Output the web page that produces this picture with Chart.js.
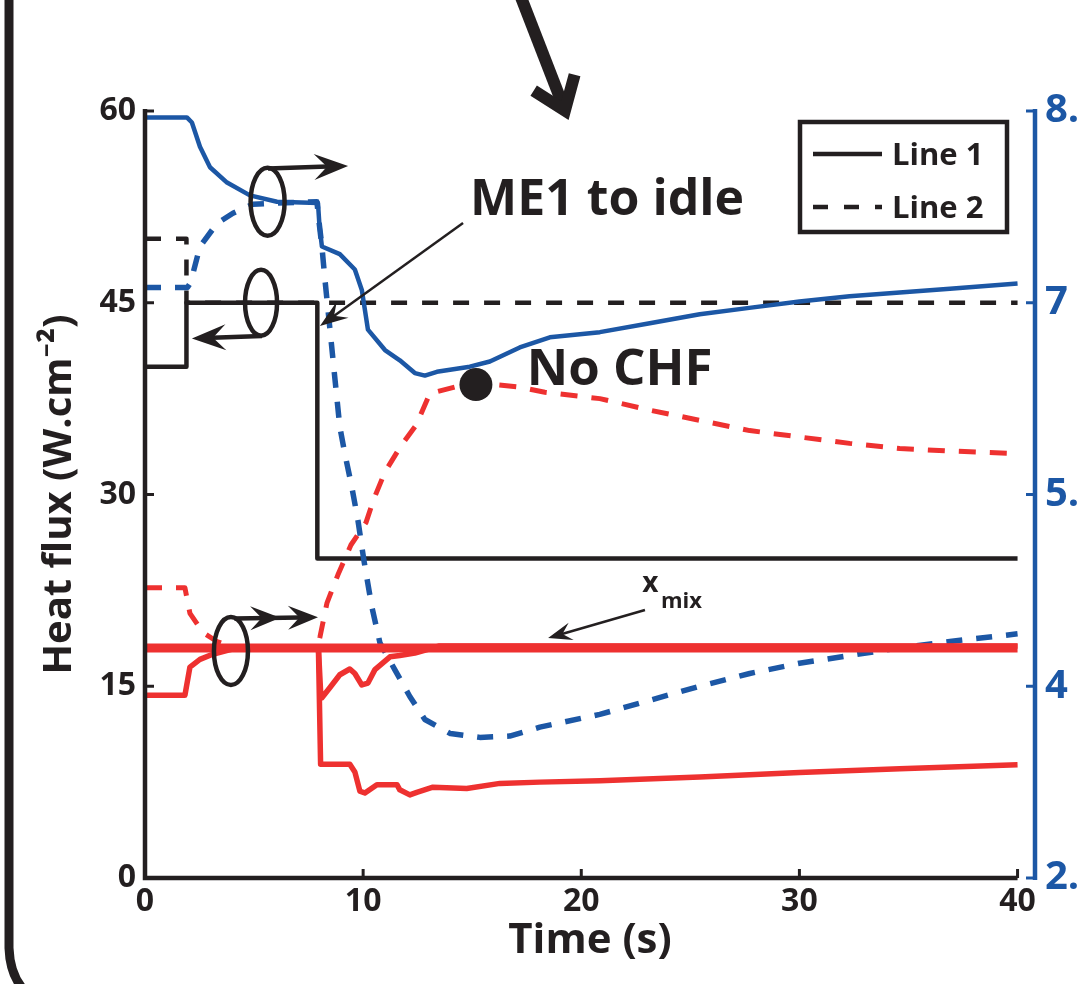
<!DOCTYPE html>
<html>
<head>
<meta charset="utf-8">
<script src="https://cdn.jsdelivr.net/npm/chart.js@4.4.1/dist/chart.umd.min.js"></script>
<style>
    html, body { margin: 0; padding: 0; background: #fff; overflow: hidden; }
    #wrap { width: 1130px; height: 984px; position: relative; }
</style>
</head>
<body>
<div id="wrap"><canvas id="chart"></canvas></div>
<script>
// tick values
const timeTicks = [0, 10, 20, 30, 40]
const fluxTicks = [0, 15, 30, 45, 60]
const rightTicks = [2.5, 4, 5.5, 7, 8.5]
const legendLabels = ["Line 1", "Line 2"]

// black, heat flux (left axis)
const blackSolidT = [0, 1.9, 1.9, 7.9, 7.9, 40]
const blackSolidV = [40, 40, 45, 45, 25, 25]
const blackDashT = [0, 1.9, 1.9, 40]
const blackDashV = [50, 50, 45, 45]

// blue (right axis)
const blueSolidT = [0, 1.92, 2.15, 2.52, 2.98, 3.76, 4.81, 6.05, 7.93, 8.0, 8.11, 8.93, 9.62, 9.94, 10.22, 11.0, 11.68, 12.37, 12.83, 13.38, 14.89, 15.81, 17.18, 18.56, 20.85, 23.14, 25.43, 27.7, 30, 32.3, 34.6, 36.9, 40]
const blueSolidV = [8.45, 8.45, 8.41, 8.22, 8.06, 7.94, 7.84, 7.79, 7.78, 7.6, 7.44, 7.38, 7.26, 7.1, 6.79, 6.63, 6.55, 6.45, 6.43, 6.46, 6.5, 6.54, 6.65, 6.73, 6.77, 6.84, 6.91, 6.96, 7.01, 7.05, 7.08, 7.11, 7.15]
const blueDashT = [0, 1.95, 2.06, 2.2, 2.52, 3.3, 4.03, 4.95, 6.05, 7.88, 8.0, 8.11, 8.25, 8.48, 8.71, 8.93, 9.16, 9.48, 9.76, 10.03, 10.4, 10.77, 11.45, 12.14, 12.83, 14.0, 15.35, 16.72, 18.1, 20.85, 23.14, 25.43, 27.72, 30, 32.3, 34.6, 36.9, 40]
const blueDashV = [7.12, 7.12, 7.15, 7.23, 7.44, 7.62, 7.7, 7.77, 7.78, 7.79, 7.6, 7.44, 7.18, 6.79, 6.4, 6.03, 5.82, 5.56, 5.3, 4.99, 4.62, 4.34, 4.13, 3.92, 3.74, 3.63, 3.6, 3.61, 3.68, 3.78, 3.89, 4.0, 4.1, 4.18, 4.24, 4.3, 4.35, 4.41]

// red (left axis)
const redDashT = [0, 1.83, 2.06, 2.66, 3.3, 4.0, 7.9, 8.02, 8.34, 8.84, 9.44, 10.13, 10.49, 11.0, 11.73, 12.42, 13.06, 14.43, 16.04, 17.18, 18.33, 20.85, 23.14, 25.43, 27.72, 30, 32.3, 34.6, 36.9, 40]
const redDashV = [22.7, 22.7, 20.7, 19.2, 18.5, 18.1, 18.0, 18.85, 21.5, 23.7, 26.05, 27.8, 29.65, 31.76, 33.8, 35.4, 37.9, 38.5, 38.6, 38.4, 38.0, 37.5, 36.6, 35.8, 35.0, 34.5, 34.0, 33.6, 33.4, 33.2]
const redThickT = [0, 40]
const redThickV = [18, 18]
const redUpperT = [0, 1.83, 2.06, 2.52, 3.1, 4.0, 5.0, 7.95, 8.05, 8.11, 8.48, 8.93, 9.39, 9.62, 9.94, 10.22, 10.54, 11.23, 11.68, 12.37, 13.5, 40]
const redUpperV = [14.3, 14.3, 16.5, 17.1, 17.5, 17.9, 18.0, 18.0, 14.6, 14.1, 14.9, 15.9, 16.35, 16.0, 15.1, 15.25, 16.3, 17.3, 17.4, 17.6, 18.15, 18.15]
const redLowerT = [7.95, 8.05, 9.39, 9.62, 9.85, 10.08, 10.63, 11.55, 11.68, 12.14, 12.46, 13.2, 14.75, 16.27, 18.1, 20.85, 25.43, 30, 34.6, 40]
const redLowerV = [18, 8.9, 8.9, 8.3, 6.8, 6.65, 7.3, 7.3, 6.9, 6.5, 6.7, 7.1, 7.0, 7.4, 7.5, 7.6, 7.9, 8.25, 8.55, 8.85]

// "No CHF" point
const noChfT = [15.17]
const noChfV = [38.6]

const BLACK = "#231f20"
const BLUE = "#1c57a5"
const RED = "#ee3130"
const FONT = "'Open Sans', 'Noto Sans', sans-serif"

const pts = (t, v) => t.map((x, i) => ({ x, y: v[i] }))

function line(label, t, v, color, width, dash, axis, order) {
    return {
        label,
        data: pts(t, v),
        borderColor: color,
        backgroundColor: color,
        borderWidth: width,
        borderDash: dash,
        pointRadius: 0,
        tension: 0,
        yAxisID: axis,
        order,
        borderCapStyle: "butt",
        borderJoinStyle: "round",
    }
}

function arrowHead(ctx, x1, y1, x2, y2, len, half) {
    const a = Math.atan2(y2 - y1, x2 - x1)
    ctx.save()
    ctx.translate(x2, y2)
    ctx.rotate(a)
    ctx.beginPath()
    ctx.moveTo(0, 0)
    ctx.lineTo(-len, -half)
    ctx.lineTo(-len * 0.62, 0)
    ctx.lineTo(-len, half)
    ctx.closePath()
    ctx.fill()
    ctx.restore()
}

function arrow(ctx, x1, y1, x2, y2, width, len, half) {
    const a = Math.atan2(y2 - y1, x2 - x1)
    ctx.lineWidth = width
    ctx.beginPath()
    ctx.moveTo(x1, y1)
    ctx.lineTo(x2 - Math.cos(a) * len * 0.6, y2 - Math.sin(a) * len * 0.6)
    ctx.stroke()
    arrowHead(ctx, x1, y1, x2, y2, len, half)
}

const decorations = {
    id: "decorations",
    afterDraw(chart) {
        const ctx = chart.ctx
        const xs = chart.scales.x
        const ys = chart.scales.y
        const y1 = chart.scales.y1
        const area = chart.chartArea
        const px = (t) => xs.getPixelForValue(t)
        const py = (v) => ys.getPixelForValue(v)

        ctx.save()
        ctx.lineCap = "butt"
        ctx.fillStyle = BLACK
        ctx.strokeStyle = BLACK

        // axes
        ctx.lineWidth = 4.5
        ctx.beginPath()
        ctx.moveTo(px(0), py(60) - 2)
        ctx.lineTo(px(0), py(0))
        ctx.lineTo(px(40), py(0))
        ctx.stroke()
        ctx.lineWidth = 3
        fluxTicks.slice(1).forEach((v) => {
            ctx.beginPath()
            ctx.moveTo(px(0), py(v))
            ctx.lineTo(px(0) + 9, py(v))
            ctx.stroke()
        })
        timeTicks.slice(1).forEach((t) => {
            ctx.beginPath()
            ctx.moveTo(px(t), py(0))
            ctx.lineTo(px(t), py(0) - 9)
            ctx.stroke()
        })
        ctx.strokeStyle = BLUE
        ctx.lineWidth = 4.5
        ctx.beginPath()
        ctx.moveTo(area.right, y1.getPixelForValue(8.5) - 2)
        ctx.lineTo(area.right, y1.getPixelForValue(2.5) + 2)
        ctx.stroke()
        ctx.lineWidth = 3
        rightTicks.forEach((v) => {
            ctx.beginPath()
            ctx.moveTo(area.right, y1.getPixelForValue(v))
            ctx.lineTo(area.right - 9, y1.getPixelForValue(v))
            ctx.stroke()
        })

        // frame on the left
        ctx.strokeStyle = BLACK
        ctx.lineWidth = 9
        ctx.beginPath()
        ctx.moveTo(9, 0)
        ctx.lineTo(9, 948)
        ctx.quadraticCurveTo(10, 975, 24, 990)
        ctx.stroke()

        // legend
        const lx = area.right - 235
        const ly = area.top + 11
        ctx.lineWidth = 4.5
        ctx.strokeRect(lx, ly, 207, 110)
        ctx.font = "bold 31px " + FONT
        ctx.textBaseline = "alphabetic"
        ctx.textAlign = "left"
        legendLabels.forEach((lab, i) => {
            const yy = ly + 32 + i * 53
            ctx.lineWidth = 4.5
            ctx.setLineDash(i ? [15, 16] : [])
            ctx.beginPath()
            ctx.moveTo(lx + 13, yy)
            ctx.lineTo(lx + 82, yy)
            ctx.stroke()
            ctx.setLineDash([])
            ctx.fillText(lab, lx + 92, yy + 11)
        })

        // ellipses with arrows
        ctx.lineWidth = 4.5
        const ell = (t, v, rx, ry) => {
            ctx.beginPath()
            ctx.ellipse(px(t), py(v), rx, ry, 0, 0, Math.PI * 2)
            ctx.stroke()
        }
        ell(5.62, 52.9, 17, 34)
        arrow(ctx, px(5.64), py(55.5), px(9.31), py(55.7), 4.5, 34, 13)
        ctx.lineWidth = 4.5
        ell(5.32, 45.0, 16, 33)
        arrow(ctx, px(5.36), py(42.4), px(2.15), py(42.2), 4.5, 34, 13)
        ctx.lineWidth = 4.5
        ell(3.94, 17.76, 17, 34)
        arrow(ctx, px(4.1), py(20.3), px(7.93), py(20.4), 4.5, 30, 12)
        arrowHead(ctx, px(4.1), py(20.3), px(6.2), py(20.35), 30, 12)

        // big arrow at the top
        ctx.lineWidth = 12
        ctx.lineJoin = "miter"
        const bx1 = px(17.1), by1 = py(69.5)
        const bx2 = px(19.35), by2 = py(59.6)
        const ba = Math.atan2(by2 - by1, bx2 - bx1)
        ctx.beginPath()
        ctx.moveTo(bx1, by1)
        ctx.lineTo(bx2 - Math.cos(ba) * 6, by2 - Math.sin(ba) * 6)
        ctx.stroke()
        ctx.beginPath()
        ctx.moveTo(bx2 + Math.cos(ba + Math.PI - 0.55) * 42, by2 + Math.sin(ba + Math.PI - 0.55) * 42)
        ctx.lineTo(bx2 - Math.cos(ba) * 6, by2 - Math.sin(ba) * 6)
        ctx.lineTo(bx2 + Math.cos(ba + Math.PI + 0.55) * 42, by2 + Math.sin(ba + Math.PI + 0.55) * 42)
        ctx.stroke()

        // ME1 to idle
        arrow(ctx, px(14.58), py(51.24), px(8.02), py(43.18), 2.5, 28, 10)
        ctx.font = "bold 50px " + FONT
        ctx.fillText("ME1 to idle", px(14.9), py(51.9))

        // No CHF
        ctx.font = "bold 51px " + FONT
        ctx.fillText("No CHF", px(17.5), py(38.6))

        // x_mix
        arrow(ctx, px(22.92), py(20.97), px(18.48), py(18.77), 2.5, 24, 9)
        ctx.font = "bold 28px " + FONT
        ctx.fillText("x", px(22.8), py(22.37))
        ctx.font = "bold 22px " + FONT
        ctx.fillText("mix", px(23.65), py(21.1))

        ctx.restore()
    },
}

const datasets = [
    {
        label: "No CHF",
        data: pts(noChfT, noChfV),
        showLine: false,
        pointRadius: 16.5,
        pointBackgroundColor: BLACK,
        pointBorderWidth: 0,
        yAxisID: "y",
        order: -1,
    },
    line("x_mix", redThickT, redThickV, RED, 9, [], "y", 0),
    line("Red 1 upper", redUpperT, redUpperV, RED, 5.5, [], "y", 1),
    line("Red 1 lower", redLowerT, redLowerV, RED, 5.5, [], "y", 1),
    line("Red 2", redDashT, redDashV, RED, 5, [17, 14], "y", 2),
    line("Blue 1", blueSolidT, blueSolidV, BLUE, 4.5, [], "y1", 3),
    line("Blue 2", blueDashT, blueDashV, BLUE, 5.5, [16, 14], "y1", 3),
    line("Line 1", blackSolidT, blackSolidV, BLACK, 4.5, [], "y", 4),
    line("Line 2", blackDashT, blackDashV, BLACK, 4.5, [16, 15], "y", 5),
]

Chart.defaults.font.family = FONT
Chart.defaults.font.weight = "bold"
Chart.defaults.color = BLACK

new Chart(document.getElementById("chart").getContext("2d"), {
    type: "line",
    data: { datasets },
    plugins: [decorations],
    options: {
        responsive: true,
        maintainAspectRatio: false,
        animation: false,
        layout: { padding: { top: 111, left: 0, right: 0, bottom: 0 } },
        plugins: {
            legend: { display: false },
            tooltip: { enabled: false },
        },
        scales: {
            x: {
                type: "linear",
                min: 0,
                max: 40.8,
                afterBuildTicks: (s) => {
                    s.ticks = timeTicks.map((value) => ({ value }))
                },
                afterFit: (s) => {
                    s.height = 106
                },
                grid: { display: false, drawTicks: false },
                border: { display: false },
                ticks: {
                    padding: 5,
                    maxRotation: 0,
                    font: { size: 32, weight: "bold" },
                    color: BLACK,
                    callback: (v) => String(v),
                },
                title: {
                    display: true,
                    text: "Time (s)",
                    font: { size: 42, weight: "bold" },
                    color: BLACK,
                    padding: { top: 0, bottom: 18 },
                },
            },
            y: {
                position: "left",
                min: 0,
                max: 60,
                afterBuildTicks: (s) => {
                    s.ticks = fluxTicks.map((value) => ({ value }))
                },
                afterFit: (s) => {
                    s.width = 145
                },
                grid: { display: false, drawTicks: false },
                border: { display: false },
                ticks: {
                    padding: 9,
                    font: { size: 32, weight: "bold" },
                    color: BLACK,
                    callback: (v) => String(v),
                },
                title: {
                    display: true,
                    text: "Heat flux (W.cm⁻²)",
                    font: { size: 40, weight: "bold" },
                    color: BLACK,
                    padding: { top: 36, bottom: 0 },
                },
            },
            y1: {
                position: "right",
                min: 2.5,
                max: 8.5,
                afterBuildTicks: (s) => {
                    s.ticks = rightTicks.map((value) => ({ value }))
                },
                afterFit: (s) => {
                    s.width = 95
                },
                grid: { display: false, drawTicks: false },
                border: { display: false },
                ticks: {
                    padding: 10,
                    font: { size: 40, weight: "bold" },
                    color: BLUE,
                    callback: (v) => String(v),
                },
            },
        },
    },
})
</script>
</body>
</html>
